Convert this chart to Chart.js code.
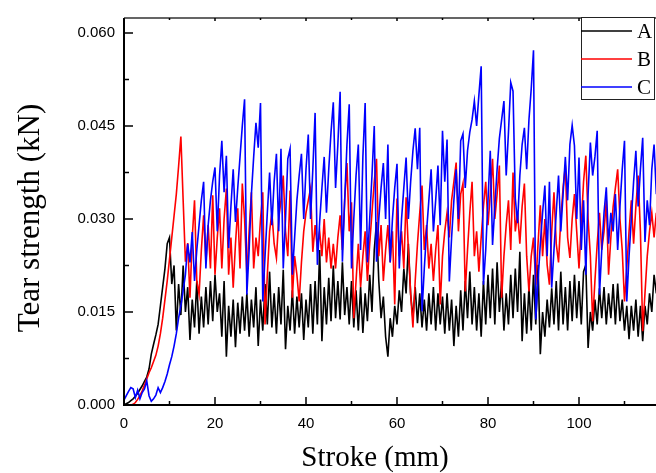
<!DOCTYPE html>
<html>
<head>
<meta charset="utf-8">
<script src="https://cdn.jsdelivr.net/npm/chart.js@4.4.0/dist/chart.umd.min.js"></script>
<style>
  html, body { margin: 0; padding: 0; background: #fff; }
  body { width: 656px; height: 473px; overflow: hidden; }
  canvas { display: block; }
</style>
</head>
<body>
<canvas id="tearChart" width="680" height="473"></canvas>
<script>
// Stroke sampling grid (mm), every 0.5 mm from 0 to 117
const stroke = [];
for (let i = 0; i <= 234; i++) stroke.push(i / 2);

// Tear strength in N (axis labels show kN)
const tearA = [
  0, 0.2, 0.4, 0.7, 1.0, 1.4, 1.9, 2.5, 3.1, 3.8,
  4.5, 5.8, 8.2, 9.8, 11.3, 13, 16, 19, 22, 26,
  27, 19.5, 22.5, 12, 19.5, 14.5, 22.5, 15, 19, 10.5,
  17, 12.5, 20, 11.5, 17.5, 12.5, 19, 13, 20, 13.5,
  21, 15, 18, 11, 20, 7.8, 16, 11, 17, 9.3,
  16.5, 11.5, 17.5, 12, 18, 11, 17, 12.5, 19, 9.5,
  17, 12, 19.5, 13, 21.5, 12.5, 18, 11.5, 19, 13,
  21.8, 9, 16, 12, 18.5, 11.5, 17.5, 12.5, 18, 10.5,
  17, 12.5, 19.5, 11.5, 20, 13, 25, 10.3, 19, 13,
  20.5, 13.5, 22.5, 14, 20, 13.8, 23, 14.5, 19, 13,
  20, 12.5, 18.5, 12, 19, 11.6, 18, 13.5, 21, 15,
  25, 29.5, 20, 14, 17.5, 11, 7.8, 14, 11, 16,
  13, 18.5, 15, 22, 18, 26, 17.8, 14, 19, 13.2,
  18, 12.5, 17, 12, 18, 13, 19, 12, 18, 13,
  17.5, 11.5, 18, 12, 17, 9.5, 16, 11, 18.5, 12,
  20, 14, 21.5, 13, 19, 12, 18, 11, 20, 13,
  21, 14, 22, 13, 23, 15, 20, 12, 18, 13,
  21, 14, 22, 15, 24.7, 10.3, 18, 11.5, 19, 12,
  21, 13, 22.6, 8.2, 15, 11, 17, 12.5, 18.8, 13,
  20, 12, 21.5, 13, 19, 12, 20, 13.5, 21, 14,
  20, 13, 21.5, 22.6, 9.2, 15, 12, 17, 13, 18.8,
  14, 19, 13, 18, 14, 19.5, 13, 19.6, 13.5, 17,
  12, 16, 10.6, 16, 12, 17, 11, 16, 10.3, 16,
  13, 18, 15, 21, 18
];

const tearB = [
  0, 0, 0, 0, 0.1, 0.4, 0.9, 1.5, 2.3, 3.2,
  4.2, 5.2, 6.0, 7.0, 8.0, 9.5, 11.5, 14, 17, 20,
  23.5, 27, 30.5, 34, 38.5, 43.3, 33, 23.1, 26.1, 17.3,
  27, 33, 20, 17.8, 25, 30.6, 23, 29, 22, 33.8,
  21, 27, 31.7, 22, 30, 34.9, 21, 27, 18.9, 26,
  31.7, 22, 35.7, 30, 21, 28, 34.3, 22, 27, 24,
  30, 34.3, 13, 21, 28, 31, 26, 23.7, 30, 33,
  37, 28, 24, 34.6, 17.3, 24, 21, 16.7, 23, 28,
  31, 33, 34.9, 24.7, 29, 25.3, 28, 24, 30, 23,
  27, 22, 26, 22, 27, 30.6, 25, 33, 39, 28,
  32.7, 14, 20, 26, 19, 24, 28, 20, 26, 31,
  36, 39.7, 24, 29, 20, 25, 29, 23, 28, 16.2,
  33.3, 24, 28, 22, 33.5, 25, 18, 12.5, 20, 26,
  31, 35.4, 25, 29, 22, 26, 20, 25, 29, 16.2,
  24, 28, 31, 27, 33, 36, 39.1, 28, 34, 35.7,
  18.3, 25, 31, 36, 24, 28, 21.5, 27, 32, 36,
  29, 34, 39.7, 30, 34, 38.6, 17.3, 24, 29, 33,
  25, 37.5, 28, 31, 26, 32, 35.7, 24, 18.3, 24,
  27, 19.4, 26, 32.2, 24, 30, 22.6, 19.4, 28, 34.3,
  26, 23, 30, 35, 38.6, 27, 23.7, 30, 34, 28,
  22, 29, 36, 40.2, 30, 24, 13.5, 20, 26, 31,
  25, 28, 33, 21, 27, 32, 35, 38, 30, 25,
  16.7, 22, 28, 33, 26, 32, 37, 28, 11.9, 18,
  24, 28, 31, 27, 31
];

const tearC = [
  0.8, 1.5, 2.2, 2.8, 2.6, 1.2, 2.4, 1.0, 2.0, 2.6,
  3.9, 1.5, 0.6, 1.0, 1.6, 2.8, 2.0, 2.8, 3.8, 5.0,
  6.5, 7.8, 9.5, 11.5, 14, 16, 18.5, 21, 26, 23,
  27.9, 20, 25, 29, 33, 36, 22, 29, 33, 36,
  38.3, 28, 37, 42.6, 34.3, 40.2, 25.3, 32, 38, 29.5,
  35, 40, 45, 49.3, 17.8, 25, 34, 40, 45.5, 41.5,
  48.7, 16.7, 24, 31, 37.5, 29, 36, 40.5, 28, 41.3,
  22, 30, 39.7, 41.3, 21, 27, 33, 37, 40.5, 30,
  38, 43.6, 30, 38, 47.1, 22.6, 29.5, 35, 40, 31,
  38, 44, 48.8, 35, 42, 50.5, 23.1, 33, 42, 48.5,
  22, 30, 37, 42, 25, 40, 48.7, 23, 30, 37,
  45, 23.1, 30, 35, 39, 30, 42, 23, 30, 35,
  38.9, 22, 30, 35, 39.9, 30, 36, 41, 44.6, 38,
  44.7, 15.1, 22, 28, 33, 38, 28, 33, 38.6, 29,
  44.2, 36, 42.8, 19.9, 27, 33, 38, 30, 42.6, 43.7,
  35, 41, 44, 46, 49, 45, 50, 54.6, 19.4, 25,
  33, 41, 25.8, 32, 38, 43, 46, 49, 37, 44,
  52, 50.6, 33.3, 29.3, 37, 42, 44.7, 38, 46, 51,
  57.2, 13.8, 20, 26, 31, 35.4, 24, 36, 18.9, 25,
  31, 37, 28, 34, 40, 33, 42, 45.1, 41.8, 30,
  39.9, 25, 33, 21, 34, 42.3, 37, 40, 44.2, 17.8,
  25, 31, 35.1, 26, 31, 28, 34, 25, 32, 38,
  42.6, 16.7, 24, 30, 36, 41, 32, 38, 43.1, 26.3,
  33, 29, 38, 42, 34
];

const seriesNames = ["A", "B", "C"];
const seriesColors = ["#000000", "#ff0000", "#0000ff"];

// frame with inward ticks like the original plot
const frame = {
  id: "frame",
  afterDatasetsDraw(chart) {
    const { ctx, chartArea: a, scales: { x, y } } = chart;
    ctx.save();
    ctx.strokeStyle = "#000";
    ctx.lineWidth = 2;
    ctx.beginPath();
    ctx.moveTo(a.left, a.top); ctx.lineTo(a.left, a.bottom); ctx.lineTo(a.right, a.bottom);
    ctx.stroke();
    ctx.strokeStyle = "#333";
    ctx.lineWidth = 1.5;
    ctx.beginPath();
    ctx.moveTo(a.left, a.top); ctx.lineTo(a.right, a.top); ctx.lineTo(a.right, a.bottom);
    ctx.stroke();

    ctx.lineWidth = 1.5;
    ctx.strokeStyle = "#000";
    ctx.beginPath();
    for (let v = 0; v <= 120; v += 10) {
      const px = x.getPixelForValue(v);
      const major = v % 20 === 0;
      ctx.moveTo(px, a.bottom); ctx.lineTo(px, a.bottom - (major ? 8 : 4));
      ctx.moveTo(px, a.top); ctx.lineTo(px, a.top + (major ? 3 : 2));
    }
    for (let v = 0; v <= 60; v += 7.5) {
      const py = y.getPixelForValue(v);
      const major = v % 15 === 0;
      ctx.moveTo(a.left, py); ctx.lineTo(a.left + (major ? 9 : 5), py);
    }
    ctx.stroke();
    ctx.restore();
  }
};

const titles = {
  id: "titles",
  afterDraw(chart) {
    const { ctx } = chart;
    ctx.save();
    ctx.fillStyle = "#000";
    ctx.textAlign = "center";
    ctx.textBaseline = "middle";
    ctx.font = "29px 'Liberation Serif'";
    ctx.fillText("Stroke (mm)", 375, 458);
    ctx.translate(31, 218);
    ctx.rotate(-Math.PI / 2);
    ctx.font = "31px 'Liberation Serif'";
    ctx.fillText("Tear strength (kN)", 0, 0);
    ctx.restore();
  }
};

const legendBox = {
  id: "legendBox",
  afterDraw(chart) {
    const { ctx } = chart;
    const left = 581, top = 17, w = 73, h = 82;
    ctx.save();
    ctx.fillStyle = "#fff";
    ctx.fillRect(left, top, w, h);
    ctx.strokeStyle = "#222";
    ctx.lineWidth = 1;
    ctx.strokeRect(left + 0.5, top + 0.5, w, h);
    ctx.font = "21px 'Liberation Serif'";
    ctx.textBaseline = "middle";
    chart.data.datasets.forEach((ds, i) => {
      const yy = 31 + i * 28;
      ctx.strokeStyle = ds.borderColor;
      ctx.lineWidth = 1.5;
      ctx.beginPath();
      ctx.moveTo(left, yy); ctx.lineTo(632, yy);
      ctx.stroke();
      ctx.fillStyle = "#000";
      ctx.fillText(ds.label, 637, yy + 1);
    });
    ctx.restore();
  }
};

const tickFont = { family: "'Liberation Sans', Arial, sans-serif", size: 15 };

new Chart(document.getElementById("tearChart"), {
  type: "line",
  data: {
    labels: stroke,
    datasets: [
      { label: seriesNames[0], data: tearA, borderColor: seriesColors[0], order: 3 },
      { label: seriesNames[1], data: tearB, borderColor: seriesColors[1], order: 2 },
      { label: seriesNames[2], data: tearC, borderColor: seriesColors[2], order: 1 }
    ]
  },
  options: {
    responsive: false,
    animation: false,
    devicePixelRatio: 1,
    layout: { padding: { top: 14, right: 7.6, left: 0, bottom: 0 } },
    elements: {
      point: { radius: 0 },
      line: { borderWidth: 1.6, tension: 0 }
    },
    plugins: { legend: { display: false }, tooltip: { enabled: false } },
    scales: {
      x: {
        type: "linear",
        min: 0,
        max: 120,
        grid: { display: false, drawTicks: false },
        border: { display: false },
        ticks: {
          stepSize: 20, color: "#000", font: tickFont, padding: 10, maxRotation: 0,
          callback: (v) => (v === 120 ? "" : v)
        },
        afterFit: (s) => { s.height = 68; }
      },
      y: {
        min: 0,
        max: 62.4,
        grid: { display: false, drawTicks: false },
        border: { display: false },
        ticks: {
          stepSize: 15,
          includeBounds: false,
          color: "#000",
          font: tickFont,
          padding: 9,
          callback: (v) => (v / 1000).toFixed(3)
        },
        afterFit: (s) => { s.width = 124; }
      }
    }
  },
  plugins: [frame, titles, legendBox]
});
</script>
</body>
</html>
